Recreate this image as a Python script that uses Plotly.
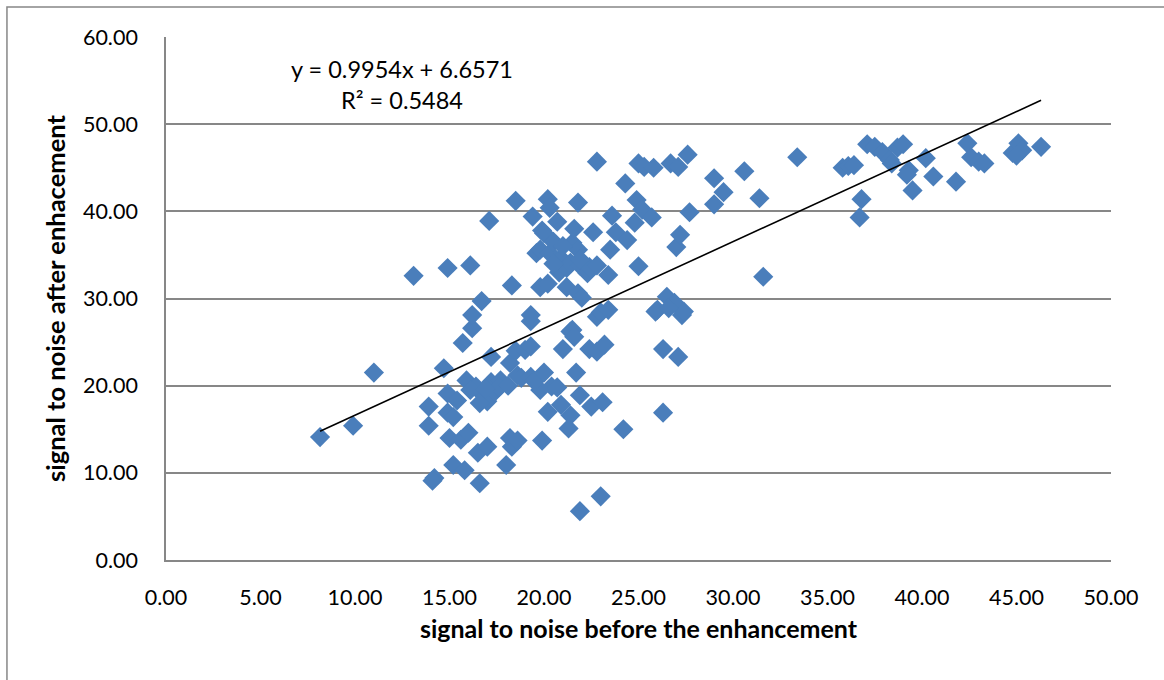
import plotly.graph_objects as go

# signal-to-noise before enhancement (x) and after enhancement (y)
snr_before = [
    8.15, 9.9, 11.0, 13.1, 13.9, 13.9, 14.2, 14.1, 14.7, 14.9, 14.9, 14.9, 15.0, 15.2, 15.2, 15.4,
    15.6, 15.7, 15.8, 16.0, 15.9, 16.1, 16.2, 16.2, 16.4, 16.5, 16.6, 16.7, 16.8, 17.0, 17.1, 17.0,
    17.2, 17.2, 17.4, 17.7, 17.6, 16.6, 16.1, 16.9,
    18.0, 18.1, 18.3, 18.2, 18.3, 18.6, 18.2, 18.5, 18.6, 18.8, 18.5, 19.0, 19.3, 19.3, 19.3, 19.3,
    19.4, 19.8, 19.6, 19.8, 19.8, 19.9, 19.9, 20.2, 20.2, 20.2, 20.3, 20.3, 20.4, 20.7, 20.7, 20.9,
    20.8, 20.9, 21.0, 21.2, 21.2, 21.4, 21.3, 21.5, 21.4, 21.4, 21.5, 21.6, 21.6, 21.7, 21.8, 21.8,
    21.8, 21.9, 21.9, 21.9, 22.0, 22.3, 22.4, 22.4, 22.5, 22.6, 22.8, 22.8, 22.8, 22.8, 23.0, 23.1,
    23.2, 23.0, 23.4, 23.5, 23.4, 23.6, 23.8, 24.2, 24.3, 24.4, 20.0, 20.5, 21.0, 20.5, 21.9, 19.5,
    20.0,
    24.8, 24.9, 25.0, 25.0, 25.2, 25.3, 25.7, 25.8, 26.0, 25.9, 26.3, 26.3, 26.5, 26.7, 26.9, 27.0,
    27.1, 27.1, 27.2, 27.3, 27.4, 27.6, 27.7, 26.6,
    29.0, 29.5, 29.0, 30.6, 31.4, 31.6, 33.4, 35.8, 36.1, 36.4, 36.8, 36.7, 37.1, 37.5, 37.9, 38.3,
    38.4, 38.7, 39.0, 39.3, 39.2, 39.5, 40.2, 40.6, 41.8, 42.4, 42.6, 43.0, 43.3, 44.8, 45.1, 45.3,
    45.0, 46.3,
]
snr_after = [
    14.1, 15.4, 21.5, 32.6, 17.6, 15.4, 9.4, 9.1, 22.0, 33.5, 19.1, 16.9, 14.0, 16.4, 10.9, 18.3,
    13.8, 24.9, 10.3, 14.6, 20.6, 33.8, 26.6, 28.1, 19.9, 12.3, 8.8, 29.7, 18.9, 18.2, 38.9, 13.0,
    23.3, 20.4, 19.3, 20.6, 19.8, 18.0, 19.5, 19.6,
    10.9, 20.0, 31.5, 14.0, 13.0, 13.7, 22.6, 41.2, 21.2, 20.9, 24.0, 24.1, 27.4, 28.1, 24.5, 21.0,
    39.4, 19.5, 35.2, 35.6, 31.3, 13.7, 37.8, 41.4, 31.7, 17.0, 40.4, 35.2, 19.9, 19.8, 38.8, 34.6,
    33.0, 17.8, 24.2, 33.5, 31.3, 16.6, 15.1, 36.4, 34.1, 26.2, 26.4, 25.6, 38.0, 21.5, 41.0, 35.6,
    30.6, 18.9, 5.6, 33.8, 30.1, 32.9, 33.6, 24.2, 17.6, 37.6, 33.8, 45.7, 27.9, 23.9, 7.3, 18.1,
    24.7, 28.4, 28.7, 35.6, 32.7, 39.5, 37.6, 15.0, 43.2, 36.7, 37.5, 36.5, 36.0, 34.0, 34.5, 20.5,
    21.5,
    38.7, 41.3, 33.7, 45.5, 40.2, 45.1, 39.3, 45.0, 28.7, 28.5, 16.9, 24.2, 30.2, 45.5, 29.5, 35.9,
    45.1, 23.3, 37.3, 28.1, 28.5, 46.5, 39.9, 28.9,
    43.8, 42.2, 40.8, 44.6, 41.5, 32.5, 46.2, 45.0, 45.2, 45.3, 41.4, 39.3, 47.7, 47.4, 46.8, 45.9,
    45.5, 47.3, 47.7, 44.7, 44.2, 42.4, 46.1, 44.0, 43.4, 47.8, 46.2, 45.7, 45.5, 46.7, 47.8, 47.0,
    46.4, 47.4,
]

trend_slope = 0.9954
trend_intercept = 6.6571
r_squared = 0.5484

x_ticks = [0, 5, 10, 15, 20, 25, 30, 35, 40, 45, 50]
y_ticks = [0, 10, 20, 30, 40, 50, 60]

x_title = "signal to noise before the enhancement"
y_title = "signal to noise after enhacement"

FONT = "Lato"
GRID = "#878787"

fig = go.Figure()
fig.add_trace(go.Scatter(
    x=snr_before, y=snr_after, mode="markers",
    marker=dict(symbol="diamond", size=15.5, color="#4A7EBB", line=dict(width=0)),
    showlegend=False, hoverinfo="x+y",
))

x0, x1 = min(snr_before), max(snr_before)
fig.add_trace(go.Scatter(
    x=[x0, x1], y=[trend_slope * x0 + trend_intercept, trend_slope * x1 + trend_intercept],
    mode="lines", line=dict(color="black", width=1.6), showlegend=False, hoverinfo="skip",
))

fig.add_annotation(
    x=12.49, y=54.5, xref="x", yref="y",
    text=f"y = {trend_slope}x + {trend_intercept}<br>R² = {r_squared}",
    showarrow=False, align="center",
    font=dict(family=FONT, size=23.5, color="black"),
)

# outer chart border
fig.add_shape(type="rect", xref="paper", yref="paper",
              x0=-0.1683, x1=1.2, y0=-0.4, y1=1.0574,
              line=dict(color=GRID, width=1.5), fillcolor="rgba(0,0,0,0)", layer="below")

fig.update_layout(
    width=1164, height=680,
    margin=dict(l=166, r=53, t=37, b=120),
    paper_bgcolor="white", plot_bgcolor="white",
    font=dict(family=FONT, size=21.5, color="black"),
)
fig.update_xaxes(
    range=[0, 50], tickvals=x_ticks, ticktext=[f"{v:.2f}" for v in x_ticks],
    showgrid=False, showline=True, linecolor=GRID, linewidth=1.6, zeroline=False,
    ticks="", ticklabelstandoff=17,
    title=dict(text=f"<b>{x_title}</b>", font=dict(family=FONT, size=25), standoff=12),
)
fig.update_yaxes(
    range=[0, 60], tickvals=y_ticks, ticktext=[f"{v:.2f}" for v in y_ticks],
    showgrid=True, gridcolor=GRID, gridwidth=1.6,
    showline=True, linecolor=GRID, linewidth=1.6, zeroline=False,
    ticks="", ticklabelstandoff=22,
    title=dict(text=f"<b>{y_title}</b>", font=dict(family=FONT, size=25.5), standoff=10),
)

fig.write_html("out.html")
